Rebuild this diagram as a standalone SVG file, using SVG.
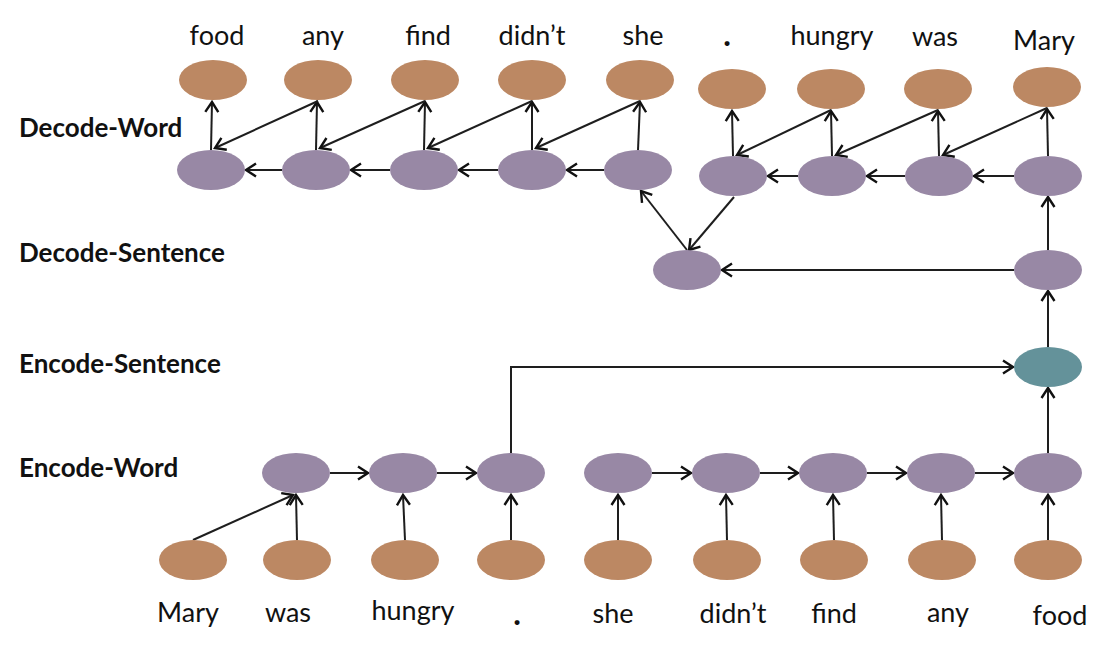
<svg xmlns="http://www.w3.org/2000/svg" width="1120" height="648" viewBox="0 0 1120 648">
<style>
.bg{fill:#ffffff}
.br{fill:#bc8863}
.pu{fill:#9888a5}
.te{fill:#64929a}
.lbl{font-family:Lato,"Liberation Sans",sans-serif;font-size:27px;fill:#111;text-anchor:middle}
.dot{font-family:Lato,"Liberation Sans",sans-serif;font-size:30px;font-weight:900;fill:#111;text-anchor:middle}
.row{font-family:Lato,"Liberation Sans",sans-serif;font-size:26px;font-weight:bold;fill:#111}
.c{fill:none;stroke:#1e1e1e;stroke-width:2;marker-end:url(#ah)}
</style>
<defs>
<marker id="ah" markerUnits="userSpaceOnUse" markerWidth="22" markerHeight="22" viewBox="-13 -11 15 22" refX="0" refY="0" orient="auto">
<path d="M-10,-6.5 L0,0 L-10,6.5" fill="none" stroke="#111" stroke-width="2.4" stroke-linejoin="miter"/>
</marker>
</defs>
<rect class="bg" x="0" y="0" width="1120" height="648"/>

<g id="row-labels">
<text class="row" x="19" y="137">Decode-Word</text>
<text class="row" x="19" y="262">Decode-Sentence</text>
<text class="row" x="19" y="373">Encode-Sentence</text>
<text class="row" x="19" y="477">Encode-Word</text>
</g>

<g id="connectors">
<!-- decode word verticals -->
<line class="c" x1="211" y1="150" x2="212" y2="102"/>
<line class="c" x1="316" y1="150" x2="317" y2="102"/>
<line class="c" x1="424" y1="150" x2="425" y2="102"/>
<line class="c" x1="532" y1="150" x2="532" y2="102"/>
<line class="c" x1="638" y1="150" x2="640" y2="102"/>
<line class="c" x1="733" y1="156" x2="732" y2="111"/>
<line class="c" x1="832" y1="156" x2="831" y2="111"/>
<line class="c" x1="939" y1="156" x2="938" y2="111"/>
<line class="c" x1="1048" y1="156" x2="1047" y2="109"/>
<!-- decode word diagonals -->
<line class="c" x1="318" y1="101" x2="215" y2="148"/>
<line class="c" x1="425" y1="101" x2="320" y2="148"/>
<line class="c" x1="532" y1="101" x2="428" y2="148"/>
<line class="c" x1="640" y1="101" x2="536" y2="148"/>
<line class="c" x1="831" y1="110" x2="737" y2="155"/>
<line class="c" x1="938" y1="110" x2="836" y2="155"/>
<line class="c" x1="1047" y1="108" x2="943" y2="155"/>
<!-- decode word horizontals -->
<line class="c" x1="604" y1="170" x2="567" y2="170"/>
<line class="c" x1="498" y1="170" x2="459" y2="170"/>
<line class="c" x1="390" y1="170" x2="351" y2="170"/>
<line class="c" x1="282" y1="170" x2="246" y2="170"/>
<line class="c" x1="1014" y1="176" x2="974" y2="176"/>
<line class="c" x1="905" y1="176" x2="867" y2="176"/>
<line class="c" x1="798" y1="176" x2="768" y2="176"/>
<!-- decode sentence -->
<line class="c" x1="1014" y1="270" x2="722" y2="270"/>
<line class="c" x1="687" y1="250" x2="641" y2="191"/>
<line class="c" x1="734" y1="197" x2="689" y2="250"/>
<line class="c" x1="1048" y1="250" x2="1048" y2="197"/>
<line class="c" x1="1048" y1="347" x2="1048" y2="291"/>
<line class="c" x1="1048" y1="453" x2="1048" y2="388"/>
<!-- encode sentence -->
<polyline class="c" points="511,453 511,367 1013,367"/>
<!-- encode word horizontals -->
<line class="c" x1="330" y1="473" x2="368" y2="473"/>
<line class="c" x1="437" y1="473" x2="476" y2="473"/>
<line class="c" x1="652" y1="473" x2="691" y2="473"/>
<line class="c" x1="760" y1="473" x2="798" y2="473"/>
<line class="c" x1="867" y1="473" x2="906" y2="473"/>
<line class="c" x1="975" y1="473" x2="1013" y2="473"/>
<!-- encode word verticals -->
<line class="c" x1="193" y1="540" x2="293" y2="495"/>
<line class="c" x1="297" y1="540" x2="296" y2="495"/>
<line class="c" x1="405" y1="540" x2="403" y2="495"/>
<line class="c" x1="511" y1="540" x2="511" y2="495"/>
<line class="c" x1="618" y1="540" x2="618" y2="495"/>
<line class="c" x1="727" y1="540" x2="726" y2="495"/>
<line class="c" x1="834" y1="540" x2="833" y2="495"/>
<line class="c" x1="942" y1="540" x2="941" y2="495"/>
<line class="c" x1="1048" y1="540" x2="1048" y2="495"/>
</g>

<g id="dec-out-food"><ellipse class="br" cx="213" cy="80" rx="34" ry="20"/><text class="lbl" x="217" y="45">food</text></g>
<g id="dec-out-any"><ellipse class="br" cx="318" cy="80" rx="34" ry="20"/><text class="lbl" x="323" y="45">any</text></g>
<g id="dec-out-find"><ellipse class="br" cx="425" cy="80" rx="34" ry="20"/><text class="lbl" x="428" y="45">find</text></g>
<g id="dec-out-didnt"><ellipse class="br" cx="532" cy="80" rx="34" ry="20"/><text class="lbl" x="532" y="45">didn’t</text></g>
<g id="dec-out-she"><ellipse class="br" cx="640" cy="80" rx="34" ry="20"/><text class="lbl" x="643" y="45">she</text></g>
<g id="dec-out-dot"><ellipse class="br" cx="732" cy="89" rx="34" ry="20"/><text class="dot" x="727" y="46">.</text></g>
<g id="dec-out-hungry"><ellipse class="br" cx="831" cy="89" rx="34" ry="20"/><text class="lbl" x="832" y="45">hungry</text></g>
<g id="dec-out-was"><ellipse class="br" cx="938" cy="89" rx="34" ry="20"/><text class="lbl" x="935" y="46">was</text></g>
<g id="dec-out-mary"><ellipse class="br" cx="1047" cy="87" rx="34" ry="20"/><text class="lbl" x="1044" y="50">Mary</text></g>

<g id="dec-w-food"><ellipse class="pu" cx="211" cy="170" rx="34" ry="20"/></g>
<g id="dec-w-any"><ellipse class="pu" cx="316" cy="170" rx="34" ry="20"/></g>
<g id="dec-w-find"><ellipse class="pu" cx="424" cy="170" rx="34" ry="20"/></g>
<g id="dec-w-didnt"><ellipse class="pu" cx="532" cy="170" rx="34" ry="20"/></g>
<g id="dec-w-she"><ellipse class="pu" cx="638" cy="170" rx="34" ry="20"/></g>
<g id="dec-w-dot"><ellipse class="pu" cx="733" cy="176" rx="34" ry="20"/></g>
<g id="dec-w-hungry"><ellipse class="pu" cx="832" cy="176" rx="34" ry="20"/></g>
<g id="dec-w-was"><ellipse class="pu" cx="939" cy="176" rx="34" ry="20"/></g>
<g id="dec-w-mary"><ellipse class="pu" cx="1048" cy="176" rx="34" ry="20"/></g>

<g id="dec-s-2"><ellipse class="pu" cx="687" cy="270" rx="34" ry="20"/></g>
<g id="dec-s-1"><ellipse class="pu" cx="1048" cy="270" rx="34" ry="20"/></g>
<g id="enc-s"><ellipse class="te" cx="1048" cy="367" rx="34" ry="20"/></g>

<g id="enc-w-was"><ellipse class="pu" cx="296" cy="473" rx="34" ry="20"/></g>
<g id="enc-w-hungry"><ellipse class="pu" cx="403" cy="473" rx="34" ry="20"/></g>
<g id="enc-w-dot"><ellipse class="pu" cx="511" cy="473" rx="34" ry="20"/></g>
<g id="enc-w-she"><ellipse class="pu" cx="618" cy="473" rx="34" ry="20"/></g>
<g id="enc-w-didnt"><ellipse class="pu" cx="726" cy="473" rx="34" ry="20"/></g>
<g id="enc-w-find"><ellipse class="pu" cx="833" cy="473" rx="34" ry="20"/></g>
<g id="enc-w-any"><ellipse class="pu" cx="941" cy="473" rx="34" ry="20"/></g>
<g id="enc-w-food"><ellipse class="pu" cx="1048" cy="473" rx="34" ry="20"/></g>

<g id="enc-in-mary"><ellipse class="br" cx="193" cy="560" rx="34" ry="20"/><text class="lbl" x="188" y="622">Mary</text></g>
<g id="enc-in-was"><ellipse class="br" cx="297" cy="560" rx="34" ry="20"/><text class="lbl" x="288" y="622">was</text></g>
<g id="enc-in-hungry"><ellipse class="br" cx="405" cy="560" rx="34" ry="20"/><text class="lbl" x="413" y="620">hungry</text></g>
<g id="enc-in-dot"><ellipse class="br" cx="511" cy="560" rx="34" ry="20"/><text class="dot" x="517" y="625">.</text></g>
<g id="enc-in-she"><ellipse class="br" cx="618" cy="560" rx="34" ry="20"/><text class="lbl" x="613" y="623">she</text></g>
<g id="enc-in-didnt"><ellipse class="br" cx="727" cy="560" rx="34" ry="20"/><text class="lbl" x="733" y="623">didn’t</text></g>
<g id="enc-in-find"><ellipse class="br" cx="834" cy="560" rx="34" ry="20"/><text class="lbl" x="834" y="623">find</text></g>
<g id="enc-in-any"><ellipse class="br" cx="942" cy="560" rx="34" ry="20"/><text class="lbl" x="948" y="622">any</text></g>
<g id="enc-in-food"><ellipse class="br" cx="1048" cy="560" rx="34" ry="20"/><text class="lbl" x="1060" y="625">food</text></g>
</svg>
